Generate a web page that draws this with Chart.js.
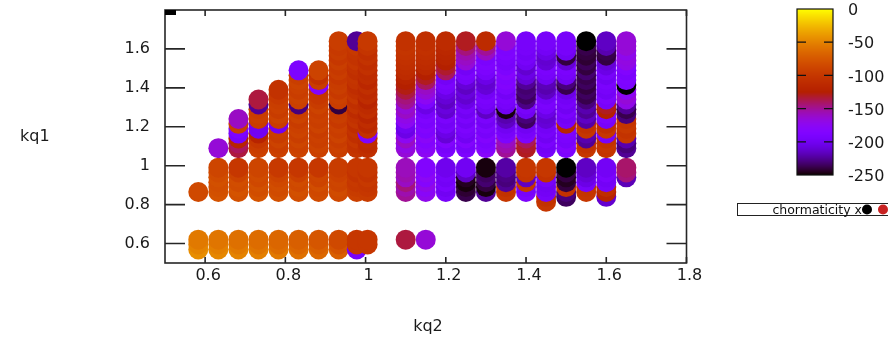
<!DOCTYPE html>
<html>
<head>
<meta charset="utf-8">
<script src="https://cdn.jsdelivr.net/npm/chart.js@4.4.1/dist/chart.umd.min.js"></script>
<style>
  html, body { margin: 0; padding: 0; background: #fff; }
</style>
</head>
<body>
<canvas id="plot" width="888" height="341"></canvas>
<script>
// kq2 columns
const colX = [0.583, 0.633, 0.683, 0.733, 0.783, 0.833, 0.883, 0.933, 0.978, 1.005,
              1.1, 1.15, 1.2, 1.25, 1.3, 1.35, 1.4, 1.45, 1.5, 1.55, 1.6, 1.65];

// kq1 rows
const bottomY = [0.57, 0.595, 0.62];
const lowerY = [0.815, 0.84, 0.865, 0.89, 0.915, 0.94, 0.965, 0.99];
const upperY = [1.09, 1.115, 1.14, 1.165, 1.19, 1.215, 1.24, 1.265, 1.29, 1.315, 1.34, 1.365,
                1.39, 1.415, 1.44, 1.465, 1.49, 1.515, 1.54, 1.565, 1.59, 1.615, 1.64];

// colour values, one list per column, bottom row first (null = no point)
const bottomV = [
  [-45, -50, -55], [-48, -52, -57], [-50, -55, -60], [-52, -58, -62], [-55, -62, -66],
  [-60, -66, -70], [-65, -70, -76], [-70, -78, -85], [-195, -100, -100], [null, -100, -100],
  [null, null, -135], [null, null, -165],
  [null, null, null], [null, null, null], [null, null, null], [null, null, null], [null, null, null],
  [null, null, null], [null, null, null], [null, null, null], [null, null, null], [null, null, null]
];

const lowerV = [
  [null, null, -85, null, null, null, null, null],
  [null, null, -78, -80, -82, -80, -84, -88],
  [null, null, -80, -78, -84, -82, -90, -100],
  [null, null, -78, -82, -80, -86, -84, -88],
  [null, null, -80, -84, -82, -86, -90, -98],
  [null, null, -82, -80, -86, -84, -92, -100],
  [null, null, -84, -86, -82, -90, -88, -100],
  [null, null, -86, -84, -90, -88, -92, -96],
  [null, null, -92, -96, -100, -98, -104, -100],
  [null, null, -96, -100, -102, -98, -104, -100],
  [null, null, -150, -155, -145, -160, -155, -158],
  [null, null, -172, -178, -170, -182, -176, -185],
  [null, null, -195, -200, -192, -198, -196, -202],
  [null, null, -238, -242, -248, -245, -215, -200],
  [null, null, -225, -248, -240, -232, -235, -248],
  [null, null, -100, -105, -225, -230, -228, -222],
  [null, null, -190, -195, -100, -215, -102, -100],
  [-100, -105, -195, -198, -200, -195, -105, -100],
  [null, -235, -230, -105, -240, -245, -240, -250],
  [null, null, -100, -102, -195, -205, -210, -215],
  [null, -212, -120, -110, -195, -198, -192, -198],
  [null, null, null, null, null, -218, -145, -142]
];

const upperV = [
  [],
  [-165],
  [-135, -140, -120, -195, -190, -95, -160],
  [-92, -95, -100, -120, -200, -200, -95, -92, -95, -225, -135],
  [-92, -95, -90, -96, -94, -200, -95, -90, -96, -92, -94, -98, -105],
  [-90, -92, -88, -94, -90, -92, -96, -90, -94, -230, -92, -90, -95, -92, -90, -94, -190],
  [-92, -90, -94, -92, -96, -90, -94, -92, -95, -90, -96, -100, -102, -185, -95, -105, -90],
  [-94, -92, -96, -90, -95, -92, -98, -94, -96, -240, -95, -92, -98, -94, -96, -100, -95, -98, -94, -100, -96, -98, -95],
  [-102, -105, -100, -108, -104, -110, -102, -106, -112, -104, -108, -100, -106, -110, -104, -102, -108, -105, -100, -104, -102, -98, -225],
  [-108, -112, -110, -190, -106, -115, -110, -118, -108, -112, -120, -110, -114, -108, -116, -110, -112, -106, -110, -104, -108, -102, -98],
  [-165, -170, -160, -175, -205, -200, -175, -170, -160, -165, -150, -145, -135, -128, -125, -120, -112, -110, -108, -106, -104, -102, -105],
  [-175, -180, -185, -178, -190, -185, -192, -188, -195, -205, -190, -175, -165, -160, -140, -130, -125, -115, -112, -110, -108, -106, -108],
  [-190, -195, -185, -210, -205, -195, -198, -192, -212, -208, -215, -210, -205, -195, -192, -198, -140, -132, -125, -120, -118, -115, -112],
  [-190, -195, -185, -200, -195, -190, -198, -192, -200, -195, -205, -212, -208, -215, -210, -195, -192, -198, -165, -160, -155, -145, -130],
  [-180, -188, -192, -185, -195, -190, -198, -192, -215, -200, -195, -192, -198, -210, -212, -205, -195, -190, -188, -192, -160, -150, -112],
  [-150, -155, -160, -190, -195, -200, -215, -220, -248, -200, -195, -192, -198, -190, -185, -188, -182, -190, -195, -192, -188, -190, -165],
  [-130, -132, -140, -190, -195, -200, -235, -230, -200, -195, -228, -235, -230, -232, -225, -210, -205, -212, -200, -195, -198, -195, -195],
  [-195, -198, -192, -200, -195, -198, -210, -212, -205, -195, -192, -198, -215, -220, -218, -200, -195, -192, -210, -212, -205, -198, -195],
  [-190, -185, -195, -192, -190, -118, -195, -198, -192, -200, -195, -198, -205, -238, -230, -200, -195, -192, -210, -240, -200, -195, -195],
  [-100, -105, -225, -220, -100, -105, -222, -215, -225, -220, -230, -238, -235, -240, -235, -238, -232, -240, -236, -242, -240, -238, -250],
  [-102, -100, -105, -195, -100, -108, -195, -190, -125, -130, -195, -190, -198, -195, -192, -200, -195, -205, -210, -240, -238, -220, -215],
  [-225, -230, -220, -100, -104, -98, -102, -230, -238, -225, -170, -165, -175, -250, -190, -188, -192, -185, -170, -168, -172, -165, -165]
];

const xTicks = [0.6, 0.8, 1.0, 1.2, 1.4, 1.6, 1.8];
const yTicks = [0.6, 0.8, 1.0, 1.2, 1.4, 1.6];
const cbMin = -250, cbMax = 0;
const cbTicks = [0, -50, -100, -150, -200, -250];
const legendLabel = 'chormaticity x';

// gnuplot default palette (rgbformulae 7,5,15)
function palette(v) {
  const t = Math.min(1, Math.max(0, (v - cbMin) / (cbMax - cbMin)));
  const r = Math.sqrt(t), g = t * t * t, b = Math.max(0, Math.sin(2 * Math.PI * t));
  return 'rgb(' + Math.round(255 * r) + ',' + Math.round(255 * g) + ',' + Math.round(255 * b) + ')';
}

const points = [];
colX.forEach((x, c) => {
  bottomY.forEach((y, r) => { const v = bottomV[c][r]; if (v != null) points.push({ x, y, v }); });
  lowerY.forEach((y, r) => { const v = lowerV[c][r]; if (v != null) points.push({ x, y, v }); });
  upperV[c].forEach((v, r) => points.push({ x, y: upperY[r], v }));
});

const fmt = v => String(Math.round(v * 10) / 10);
const FONT = 'DejaVu Sans';

const decor = {
  id: 'decor',
  afterDatasetsDraw(chart) {
    const ctx = chart.ctx, a = chart.chartArea;
    const xs = chart.scales.x, ys = chart.scales.y;
    ctx.save();
    // frame + inward ticks
    ctx.strokeStyle = '#262626';
    ctx.lineWidth = 1.6;
    ctx.strokeRect(a.left, a.top, a.right - a.left, a.bottom - a.top);
    ctx.beginPath();
    xTicks.forEach(t => {
      const px = xs.getPixelForValue(t);
      ctx.moveTo(px, a.bottom); ctx.lineTo(px, a.bottom - 6);
      ctx.moveTo(px, a.top); ctx.lineTo(px, a.top + 6);
    });
    yTicks.forEach(t => {
      const py = ys.getPixelForValue(t);
      ctx.moveTo(a.left, py); ctx.lineTo(a.left + 20, py);
      ctx.moveTo(a.right, py); ctx.lineTo(a.right - 20, py);
    });
    ctx.stroke();
    ctx.fillStyle = '#000';
    ctx.fillRect(a.left, a.top, 11, 5);

    // axis titles
    ctx.fillStyle = '#1a1a1a';
    ctx.font = '16px "' + FONT + '"';
    ctx.textBaseline = 'alphabetic';
    ctx.textAlign = 'left';
    ctx.fillText('kq1', 20, 141);
    ctx.textAlign = 'center';
    ctx.fillText('kq2', 428, 331);

    // colour box
    const cx = 797, cw = 36, ctop = 9, cbot = 175;
    for (let py = ctop; py < cbot; py++) {
      const v = cbMax - (py + 0.5 - ctop) / (cbot - ctop) * (cbMax - cbMin);
      ctx.fillStyle = palette(v);
      ctx.fillRect(cx, py, cw, 1);
    }
    ctx.strokeStyle = '#111';
    ctx.lineWidth = 1.2;
    ctx.strokeRect(cx, ctop, cw, cbot - ctop);
    ctx.beginPath();
    ctx.fillStyle = '#1a1a1a';
    ctx.textAlign = 'left';
    ctx.textBaseline = 'middle';
    cbTicks.forEach(t => {
      const py = ctop + (cbMax - t) / (cbMax - cbMin) * (cbot - ctop);
      if (t !== cbMax && t !== cbMin) {
        ctx.moveTo(cx, py); ctx.lineTo(cx + 9, py);
        ctx.moveTo(cx + cw, py); ctx.lineTo(cx + cw - 9, py);
      }
      ctx.fillText(String(t), 848, py + 2);
    });
    ctx.stroke();

    // key
    ctx.strokeStyle = '#222';
    ctx.lineWidth = 1;
    ctx.strokeRect(737.5, 203.5, 160, 12);
    ctx.font = '12.5px "' + FONT + '"';
    ctx.textAlign = 'right';
    ctx.textBaseline = 'alphabetic';
    ctx.fillStyle = '#111';
    ctx.fillText(legendLabel, 862, 213.5);
    ctx.fillStyle = '#000';
    ctx.beginPath(); ctx.arc(867, 209.5, 5, 0, 2 * Math.PI); ctx.fill();
    ctx.fillStyle = '#c82222';
    ctx.beginPath(); ctx.arc(883, 209.5, 5, 0, 2 * Math.PI); ctx.fill();
    ctx.restore();
  }
};

new Chart(document.getElementById('plot'), {
  type: 'scatter',
  data: {
    datasets: [{
      label: legendLabel,
      data: points,
      backgroundColor: c => palette(c.raw ? c.raw.v : cbMin),
      borderWidth: 0,
      pointRadius: 10,
      pointHoverRadius: 10
    }]
  },
  options: {
    responsive: false,
    devicePixelRatio: 1,
    animation: false,
    events: [],
    layout: { padding: { left: 0, right: 201.5, top: 6, bottom: 0 } },
    plugins: { legend: { display: false }, tooltip: { enabled: false } },
    scales: {
      x: {
        type: 'linear', min: 0.5, max: 1.8,
        grid: { display: false, drawTicks: false },
        border: { display: false },
        afterBuildTicks: s => { s.ticks = xTicks.map(v => ({ value: v })); },
        afterFit: s => { s.height = 78; s.paddingLeft = 0; s.paddingRight = 0; },
        ticks: { padding: 3, labelOffset: 3, autoSkip: false, maxRotation: 0, color: '#1a1a1a',
                 font: { family: FONT, size: 16 }, callback: v => fmt(v) }
      },
      y: {
        type: 'linear', min: 0.5, max: 1.8,
        grid: { display: false, drawTicks: false },
        border: { display: false },
        afterBuildTicks: s => { s.ticks = yTicks.map(v => ({ value: v })); },
        afterFit: s => { s.width = 165; s.paddingTop = 0; s.paddingBottom = 0; },
        ticks: { padding: 15, autoSkip: false, color: '#1a1a1a',
                 font: { family: FONT, size: 16 }, callback: v => fmt(v) }
      }
    }
  },
  plugins: [decor]
});
</script>
</body>
</html>
